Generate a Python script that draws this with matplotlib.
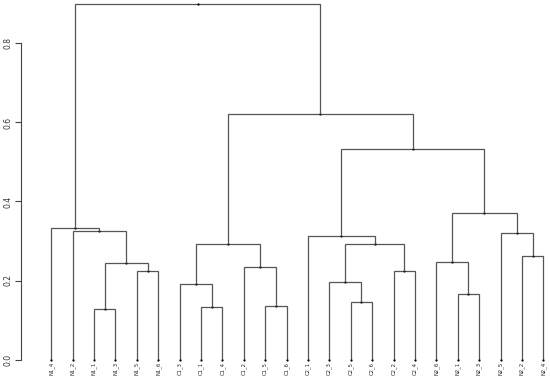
import matplotlib
matplotlib.use("Agg")
import matplotlib.pyplot as plt

# Leaf labels in display order
leaf_labels = ["N1_4", "N1_2", "N1_1", "N1_3", "N1_5", "N1_6",
               "C1_3", "C1_1", "C1_4", "C1_2", "C1_5", "C1_6",
               "C2_1", "C2_3", "C2_5", "C2_6", "C2_2", "C2_4",
               "N2_6", "N2_1", "N2_3", "N2_5", "N2_2", "N2_4"]

# R-style merge table: negative = leaf (1-based display index), positive = earlier merge
merge_left = [-3, -8, -11, -15, -20, -7, -14, -5, -17, -10, 1, -19,
              -23, 6, 7, -13, -22, -2, -1, 12, 16, 14, 19]
merge_right = [-4, -9, -12, -16, -21, 2, 4, -6, -18, 3, 8, 5,
               -24, 10, 9, 15, 13, 11, 18, 17, 20, 21, 22]
merge_height = [0.128, 0.134, 0.136, 0.146, 0.166, 0.192, 0.197, 0.224,
                0.224, 0.234, 0.244, 0.246, 0.262, 0.292, 0.292, 0.313,
                0.320, 0.326, 0.334, 0.371, 0.532, 0.621, 0.901]

y_ticks = [0.0, 0.2, 0.4, 0.6, 0.8]

W, H = 550, 379
fig = plt.figure(figsize=(W / 100, H / 100), dpi=100)

# layout in pixels
ax_left_px = 20.7
leaf0_px, leafN_px = 51.3, 543.3
y0_px = 359.5
scale_px = 395.0
n = len(leaf_labels)
step = (leafN_px - leaf0_px) / (n - 1)
xmin = -(leaf0_px - ax_left_px) / step
xmax = (n - 1) + (W - leafN_px) / step
ytop = 0.905
ax = fig.add_axes([ax_left_px / W, (H - y0_px) / H,
                   1 - ax_left_px / W, ytop * scale_px / H])
ax.set_xlim(xmin, xmax)
ax.set_ylim(0, ytop)

line_col = "#555555"
lw = 0.9

node_x = {}
node_h = {}


def pos(ref):
    if ref < 0:
        return (-ref - 1), 0.0
    return node_x[ref], node_h[ref]


for i, (a, b, h) in enumerate(zip(merge_left, merge_right, merge_height), start=1):
    xa, ha = pos(a)
    xb, hb = pos(b)
    ax.plot([xa, xa, xb, xb], [ha, h, h, hb], color=line_col, lw=lw,
            solid_joinstyle="miter", solid_capstyle="butt")
    node_x[i] = (xa + xb) / 2
    node_h[i] = h
    ax.plot(node_x[i], h, marker="o", ms=1.6, color="black", mec="black", mew=0)

# leaf markers and labels
for i, lab in enumerate(leaf_labels):
    ax.plot(i, 0, marker="o", ms=1.6, color="black", mew=0, clip_on=False)
    ax.text(i, -0.006, lab, rotation=90, ha="center", va="top",
            fontsize=3.8, color="#222233", clip_on=False)

for s in ["top", "right", "bottom"]:
    ax.spines[s].set_visible(False)
ax.spines["left"].set_bounds(0, 0.8)
ax.spines["left"].set_color("#444444")
ax.spines["left"].set_linewidth(0.8)
ax.set_xticks([])
ax.set_yticks(y_ticks)
ax.set_yticklabels([f"{t:.1f}" for t in y_ticks], rotation=90, va="center",
                   fontsize=5.5, color="#333333")
ax.tick_params(axis="y", length=4, width=0.8, color="#444444", pad=2)

fig.savefig("out.png", dpi=100)
